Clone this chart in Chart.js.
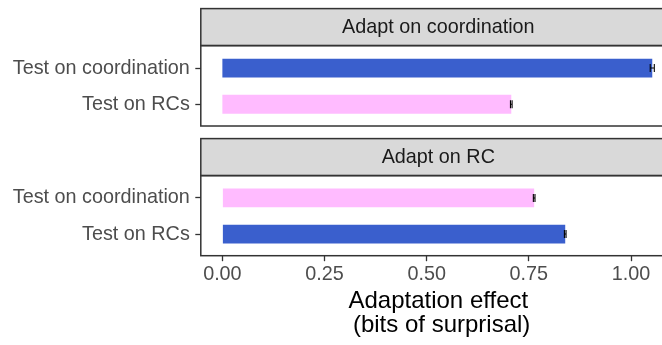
<!DOCTYPE html>
<html>
<head>
<meta charset="utf-8">
<script src="https://cdn.jsdelivr.net/npm/chart.js@4/dist/chart.umd.min.js"></script>
<style>
  html, body { margin: 0; padding: 0; background: #ffffff; overflow: hidden; width: 662px; height: 345px; }
  canvas { position: absolute; left: 0; }
  #top { top: 0; }
  #bottom { top: 130px; }
</style>
</head>
<body>
<canvas id="top" width="677" height="130"></canvas>
<canvas id="bottom" width="677" height="215"></canvas>
<script>
// Facet titles
const panelTitles = ['Adapt on coordination', 'Adapt on RC'];
// Test conditions (rows inside each facet)
const testLabels = ['Test on coordination', 'Test on RCs'];
const testPositions = [1, 2];
// Adaptation effect in bits of surprisal, per facet
const adaptCoordValues = [1.052, 0.707];
const adaptRCValues = [0.763, 0.839];
// Standard errors
const adaptCoordErrors = [0.005, 0.002];
const adaptRCErrors = [0.002, 0.002];
// Same-structure vs. different-structure
const adaptCoordMatch = [true, false];
const adaptRCMatch = [false, true];
// X axis ticks
const xTickValues = [0, 0.25, 0.5, 0.75, 1.0];
const xTickLabels = ['0.00', '0.25', '0.50', '0.75', '1.00'];
const xAxisTitle = ['Adaptation effect', ' (bits of surprisal)'];

const FONT = "'Liberation Sans', Arial, Helvetica, sans-serif";
const TEXT_SIZE = 19.8;
const MATCH_COLOR = '#3A5FCD';
const MISMATCH_COLOR = '#FFBBFF';
const BORDER_COLOR = '#333333';
const X_MIN = -0.0528, X_MAX = 1.1096;
const AXIS_WIDTH = 200.8;

function facetPlugin(title, errors) {
  return {
    id: 'facet',
    beforeDraw(chart) {
      const { ctx, chartArea: a } = chart;
      const stripH = 37;
      ctx.save();
      ctx.fillStyle = '#D9D9D9';
      ctx.fillRect(a.left, a.top - stripH, a.right - a.left, stripH);
      ctx.strokeStyle = BORDER_COLOR;
      ctx.lineWidth = 1.5;
      ctx.strokeRect(a.left, a.top - stripH, a.right - a.left, stripH);
      ctx.fillStyle = '#1A1A1A';
      ctx.font = TEXT_SIZE + 'px ' + FONT;
      ctx.textAlign = 'center';
      ctx.textBaseline = 'middle';
      ctx.fillText(title, (a.left + a.right) / 2, a.top - stripH / 2);
      ctx.restore();
    },
    afterDatasetsDraw(chart) {
      const { ctx, chartArea: a, scales } = chart;
      const meta = chart.getDatasetMeta(0);
      const data = chart.data.datasets[0].data;
      ctx.save();
      ctx.strokeStyle = '#000000';
      ctx.lineWidth = 1.1;
      data.forEach((d, i) => {
        const y = meta.data[i].y;
        const x1 = scales.x.getPixelForValue(d.x - errors[i]);
        const x2 = scales.x.getPixelForValue(d.x + errors[i]);
        const h = 4;
        ctx.beginPath();
        ctx.moveTo(x1, y); ctx.lineTo(x2, y);
        ctx.moveTo(x1, y - h); ctx.lineTo(x1, y + h);
        ctx.moveTo(x2, y - h); ctx.lineTo(x2, y + h);
        ctx.stroke();
      });
      ctx.strokeStyle = BORDER_COLOR;
      ctx.lineWidth = 1.5;
      ctx.strokeRect(a.left, a.top, a.right - a.left, a.bottom - a.top);
      ctx.restore();
    }
  };
}

function makeChart(id, title, values, errors, match, showX) {
  const data = values.map((v, i) => ({ x: v, y: testPositions[i] }));
  const xScale = {
    type: 'linear',
    min: X_MIN,
    max: X_MAX,
    display: showX,
    afterBuildTicks(scale) { scale.ticks = xTickValues.map(v => ({ value: v })); },
    afterFit(scale) {
      if (showX) scale.height = 89.3;
      scale.paddingLeft = 0; scale.paddingRight = 0;
    },
    grid: {
      drawOnChartArea: false, drawTicks: true, tickLength: 5.5,
      tickColor: BORDER_COLOR, tickWidth: 1.3, offset: false
    },
    border: { display: false },
    ticks: {
      color: '#4D4D4D', padding: 1.2,
      font: { family: FONT, size: TEXT_SIZE },
      callback: (v) => xTickLabels[xTickValues.indexOf(v)] ?? ''
    },
    title: {
      display: showX, text: xAxisTitle, color: '#000000',
      font: { family: FONT, size: 24, lineHeight: 1.0 },
      padding: { top: 0, bottom: 7.3 }
    }
  };
  return new Chart(document.getElementById(id), {
    type: 'bar',
    data: {
      datasets: [{
        data,
        backgroundColor: match.map(m => m ? MATCH_COLOR : MISMATCH_COLOR),
        borderWidth: 0,
        barPercentage: 0.52,
        categoryPercentage: 1.0
      }]
    },
    options: {
      indexAxis: 'y',
      responsive: false,
      animation: false,
      devicePixelRatio: 1,
      layout: { padding: { top: 45.6, right: 1.2, bottom: showX ? 0 : 4, left: 0 } },
      plugins: { legend: { display: false }, tooltip: { enabled: false } },
      scales: {
        x: xScale,
        y: {
          type: 'linear',
          min: 0.38,
          max: 2.6,
          reverse: true,
          offset: false,
          afterBuildTicks(scale) { scale.ticks = testPositions.map(v => ({ value: v })); },
          afterFit(scale) {
            scale.width = AXIS_WIDTH;
            scale.paddingTop = 0; scale.paddingBottom = 0;
          },
          grid: {
            drawOnChartArea: false, drawTicks: true, tickLength: 5.5,
            tickColor: BORDER_COLOR, tickWidth: 1.3, offset: false
          },
          border: { display: false },
          ticks: {
            color: '#4D4D4D', padding: 5.5,
            font: { family: FONT, size: TEXT_SIZE },
            callback: (v) => testLabels[testPositions.indexOf(v)] ?? ''
          }
        }
      }
    },
    plugins: [facetPlugin(title, errors)]
  });
}

makeChart('top', panelTitles[0], adaptCoordValues, adaptCoordErrors, adaptCoordMatch, false);
makeChart('bottom', panelTitles[1], adaptRCValues, adaptRCErrors, adaptRCMatch, true);
</script>
</body>
</html>
